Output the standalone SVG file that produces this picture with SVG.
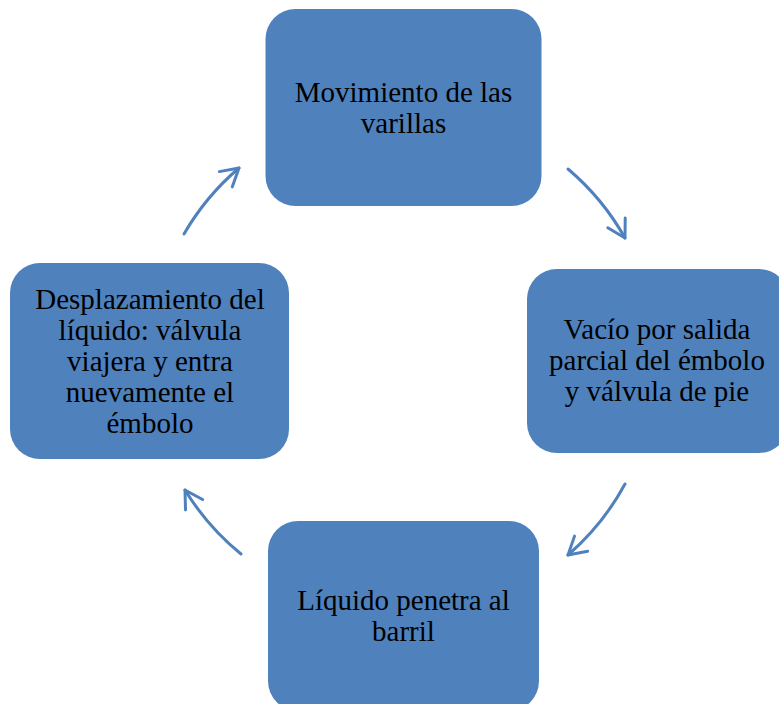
<svg xmlns="http://www.w3.org/2000/svg" width="779" height="704" viewBox="0 0 779 704">
<defs>
<marker id="ah" markerUnits="userSpaceOnUse" markerWidth="40" markerHeight="40" refX="0" refY="0" orient="auto" overflow="visible">
<path d="M -17.3 -10 L 0 0 L -17.3 10" fill="none" stroke="#4F81BD" stroke-width="3" stroke-linecap="round" stroke-linejoin="round"/>
</marker>
<style>
.box{fill:#4F81BD;}
.t{font-family:"Liberation Serif","Times New Roman",serif;font-size:29px;fill:#000;text-anchor:middle;}
.c{fill:none;stroke:#4F81BD;stroke-width:3;stroke-linecap:round;marker-end:url(#ah);}
</style>
</defs>
<rect width="779" height="704" fill="#fff"/>
<g id="connectors">
<path class="c" d="M 568 169 A 253 253 0 0 1 625 238"/>
<path class="c" d="M 625 484 A 253 253 0 0 1 568 555"/>
<path class="c" d="M 241 554 A 253 253 0 0 1 185 490"/>
<path class="c" d="M 184 234 A 253 253 0 0 1 239 168"/>
</g>
<g id="node-top">
<rect class="box" x="265.5" y="9" width="276" height="197" rx="30"/>
<text class="t" x="403.5" y="102">Movimiento de las</text>
<text class="t" x="403.5" y="133">varillas</text>
</g>
<g id="node-right">
<rect class="box" x="527" y="269" width="262" height="184" rx="30"/>
<text class="t" x="657" y="339">Vacío por salida</text>
<text class="t" x="657" y="370">parcial del émbolo</text>
<text class="t" x="657" y="401">y válvula de pie</text>
</g>
<g id="node-bottom">
<rect class="box" x="268" y="521" width="271" height="190" rx="30"/>
<text class="t" x="403.5" y="610">Líquido penetra al</text>
<text class="t" x="403.5" y="641">barril</text>
</g>
<g id="node-left">
<rect class="box" x="10" y="263" width="279" height="196" rx="30"/>
<text class="t" x="150" y="309">Desplazamiento del</text>
<text class="t" x="150" y="340">líquido: válvula</text>
<text class="t" x="150" y="371">viajera y entra</text>
<text class="t" x="150" y="402">nuevamente el</text>
<text class="t" x="150" y="433">émbolo</text>
</g>
</svg>
